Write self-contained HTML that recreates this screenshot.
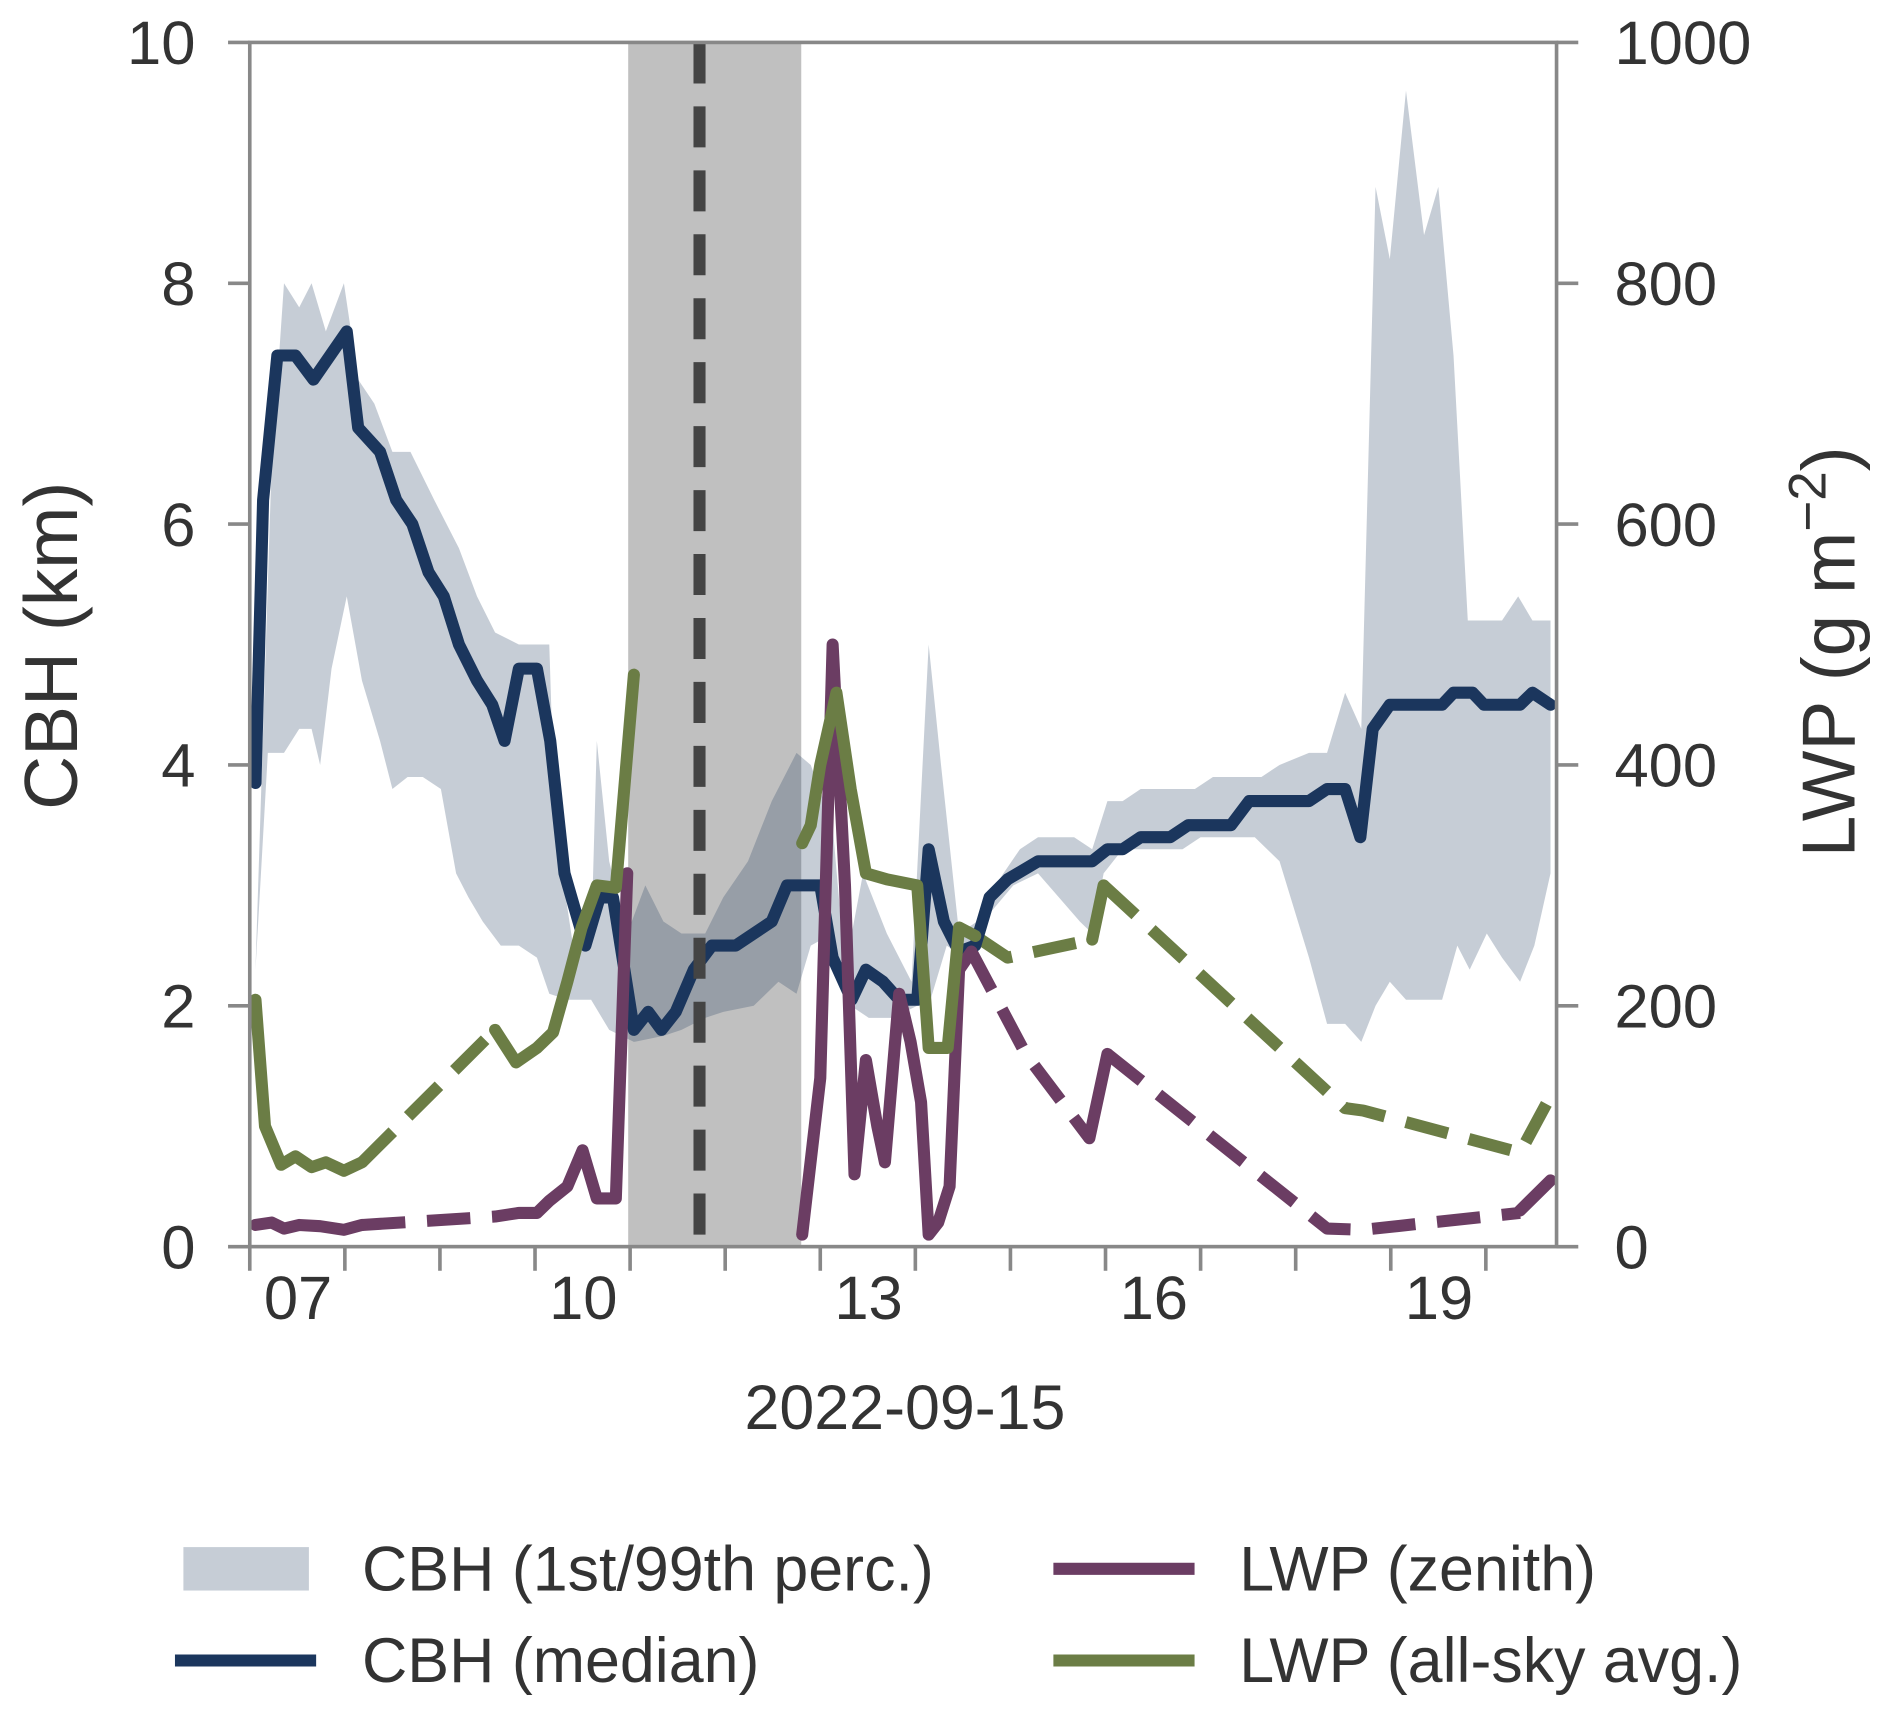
<!DOCTYPE html>
<html><head><meta charset="utf-8"><style>
html,body{margin:0;padding:0;background:#fff;}
svg{display:block;font-family:"Liberation Sans",sans-serif;}
</style></head><body>
<svg id="chart" width="1892" height="1715" viewBox="0 0 1568 1421" xmlns="http://www.w3.org/2000/svg">
<g id="plot"></g>
<g id="axes"></g>
<g id="legend">
  <rect x="152" y="1282" width="104" height="36" fill="#1b365d" fill-opacity="0.25"/>
  <text x="300" y="1318" font-size="52" fill="#333">CBH (1st/99th perc.)</text>
  <line x1="145" y1="1376" x2="262" y2="1376" stroke="#1b365d" stroke-width="10"/>
  <text x="300" y="1394" font-size="52" fill="#333">CBH (median)</text>
  <line x1="873" y1="1300" x2="990" y2="1300" stroke="#6b3d63" stroke-width="10"/>
  <text x="1027" y="1318" font-size="52" fill="#333">LWP (zenith)</text>
  <line x1="873" y1="1376" x2="990" y2="1376" stroke="#6b7d45" stroke-width="10"/>
  <text x="1027" y="1394" font-size="52" fill="#333">LWP (all-sky avg.)</text>
</g>
</svg>
<script>
const medianT=[7.06,7.14,7.29,7.48,7.67,8.02,8.14,8.37,8.54,8.71,8.88,9.04,9.20,9.39,9.55,9.68,9.83,10.02,10.16,10.31,10.53,10.68,10.82,11.04,11.19,11.33,11.48,11.67,11.86,12.11,12.49,12.65,13.0,13.13,13.33,13.48,13.66,13.83,14.02,14.14,14.30,14.46,14.63,14.78,14.97,15.29,15.86,16.02,16.18,16.37,16.68,16.87,17.32,17.51,18.14,18.33,18.52,18.68,18.81,18.99,19.54,19.66,19.86,19.98,20.36,20.49,20.68];
const medianV=[3.85,6.2,7.4,7.4,7.2,7.6,6.8,6.6,6.2,6.0,5.6,5.4,5.0,4.7,4.5,4.2,4.8,4.8,4.2,3.1,2.5,2.9,2.9,1.8,1.95,1.8,1.95,2.3,2.5,2.5,2.7,3.0,3.0,2.4,2.05,2.3,2.2,2.05,2.05,3.3,2.7,2.45,2.5,2.9,3.05,3.2,3.2,3.3,3.3,3.4,3.4,3.5,3.5,3.7,3.7,3.8,3.8,3.4,4.3,4.5,4.5,4.6,4.6,4.5,4.5,4.6,4.5];
const upperT=[7.06,7.23,7.36,7.52,7.65,7.80,7.99,8.14,8.31,8.50,8.69,8.94,9.20,9.39,9.58,9.83,10.15,10.21,10.40,10.59,10.65,10.78,10.97,11.16,11.35,11.54,11.79,11.98,12.24,12.49,12.75,12.90,13.13,13.26,13.45,13.70,13.96,14.14,14.27,14.46,14.65,14.84,15.10,15.29,15.67,15.86,16.02,16.18,16.37,16.94,17.13,17.64,17.83,18.14,18.33,18.52,18.69,18.84,18.99,19.16,19.35,19.50,19.66,19.81,20.17,20.34,20.49,20.68];
const upperV=[2.3,6.5,8.0,7.8,8.0,7.6,8.0,7.2,7.0,6.6,6.6,6.2,5.8,5.4,5.1,5.0,5.0,3.5,2.5,2.5,4.2,3.2,2.6,3.0,2.7,2.6,2.6,2.9,3.2,3.7,4.1,4.0,3.5,2.3,3.1,2.6,2.2,5.0,4.0,2.6,2.7,3.0,3.3,3.4,3.4,3.3,3.7,3.7,3.8,3.8,3.9,3.9,4.0,4.1,4.1,4.6,4.3,8.8,8.2,9.6,8.4,8.8,7.4,5.2,5.2,5.4,5.2,5.2];
const lowerT=[20.68,20.51,20.36,20.17,20.01,19.83,19.70,19.54,19.16,18.99,18.84,18.69,18.52,18.33,18.14,17.83,17.57,17.00,16.81,16.18,15.98,15.86,15.73,15.29,15.03,14.71,14.52,14.33,14.14,14.02,13.76,13.51,13.32,13.13,12.90,12.75,12.56,12.30,11.98,11.79,11.54,11.35,11.04,10.78,10.59,10.34,10.15,10.02,9.83,9.64,9.45,9.30,9.17,9.01,8.82,8.66,8.50,8.37,8.18,8.02,7.86,7.74,7.65,7.52,7.36,7.19,7.06];
const lowerV=[3.1,2.5,2.2,2.4,2.6,2.3,2.5,2.05,2.05,2.2,2.0,1.7,1.85,1.85,2.4,3.2,3.4,3.4,3.3,3.3,3.1,2.6,2.7,3.1,3.0,2.7,2.4,2.5,2.0,2.0,1.9,1.9,2.0,2.6,2.5,2.1,2.2,2.0,1.95,1.9,1.8,1.75,1.7,1.8,2.05,2.05,2.1,2.4,2.5,2.5,2.7,2.9,3.1,3.8,3.9,3.9,3.8,4.2,4.7,5.4,4.8,4.0,4.3,4.3,4.1,4.1,2.3];
const zenSolid=[
 [[7.06,18],[7.23,20],[7.36,15],[7.52,18],[7.74,17],[7.99,14],[8.18,18]],
 [[9.83,28],[10.02,28],[10.15,38],[10.34,50],[10.50,80],[10.65,40],[10.85,40],[10.97,310]],
 [[12.81,10],[13.00,140],[13.13,500],[13.26,300],[13.36,60],[13.48,155],[13.60,100],[13.68,70],[13.83,210],[13.95,170],[14.06,120],[14.14,10],[14.24,20],[14.36,50],[14.46,230],[14.59,245]],
 [[15.83,90],[16.02,160]],
 [[20.36,30],[20.68,55]]];
const zenDash=[
 [[8.18,18],[9.58,25],[9.83,28]],
 [[14.59,245],[15.16,160],[15.83,90]],
 [[16.02,160],[18.33,15],[18.71,14],[20.36,28]]];
const allSolid=[
 [[7.06,205],[7.16,100],[7.33,68],[7.48,75],[7.65,66],[7.80,70],[7.99,63],[8.18,70]],
 [[9.58,180],[9.80,153],[10.02,165],[10.19,178],[10.34,220],[10.49,265],[10.65,300],[10.85,298],[11.04,475]],
 [[12.81,335],[12.90,350],[13.00,400],[13.17,460],[13.32,380],[13.48,310],[13.70,305],[14.02,300],[14.14,165],[14.34,165],[14.46,265],[14.63,258]],
 [[15.86,255],[15.98,300]]];
const allDash=[
 [[8.18,70],[9.58,180]],
 [[14.63,258],[14.97,240],[15.86,255]],
 [[15.98,300],[18.52,115],[18.71,113],[20.36,78],[20.68,125]]];
const cbhTicks=[0,2,4,6,8,10];
const lwpTicks=[0,200,400,600,800,1000];
const dayTicks=[7,8,9,10,11,12,13,14,15,16,17,18,19,20];
const dayLabels=[[7,"07"],[10,"10"],[13,"13"],[16,"16"],[19,"19"]];
const bandStart=10.98, bandEnd=12.80, eventT=11.73;

const L=207,R=1290,T=35,B=1033;
const xs=d=>L+(d-7)*78.8;
const yk=v=>B-(v/10)*(B-T);
const yl=v=>B-(v/1000)*(B-T);
const NS="http://www.w3.org/2000/svg";
function mk(tag,attrs,parent){const e=document.createElementNS(NS,tag);for(const k in attrs)e.setAttribute(k,attrs[k]);parent.appendChild(e);return e;}
const plot=document.getElementById('plot'), axes=document.getElementById('axes');
const clip=mk('clipPath',{id:'clp'},plot);mk('rect',{x:L,y:T,width:R-L,height:B-T},clip);
const g=mk('g',{'clip-path':'url(#clp)'},plot);

let e=mk('rect',{x:xs(bandStart),y:T,width:xs(bandEnd)-xs(bandStart),height:B-T,fill:'#c0c0c0'},g);



let pts=upperT.map((t,i)=>xs(t)+','+yk(upperV[i])).concat(lowerT.map((t,i)=>xs(t)+','+yk(lowerV[i])));
e=mk('polygon',{points:pts.join(' '),fill:'#1b365d','fill-opacity':0.25},g);



function line(ptsArr,yf,color,dash,name){
  const el=mk('polyline',{points:ptsArr.map(p=>xs(p[0])+','+yf(p[1])).join(' '),fill:'none',stroke:color,'stroke-width':10,'stroke-linejoin':'round','stroke-linecap':dash?'butt':'round'},g);
  if(dash)el.setAttribute('stroke-dasharray','36 18');
  
  
}
zenDash.forEach(s=>line(s,yl,'#6b3d63',true,'lwp-zenith-gapfill'));
allDash.forEach(s=>line(s,yl,'#6b7d45',true,'lwp-allsky-gapfill'));
line(medianT.map((t,i)=>[t,medianV[i]]),yk,'#1b365d',false,'cbh-median-line');
zenSolid.forEach(s=>line(s,yl,'#6b3d63',false,'lwp-zenith-line'));
allSolid.forEach(s=>line(s,yl,'#6b7d45',false,'lwp-allsky-line'));

e=mk('line',{x1:xs(eventT),x2:xs(eventT),y1:T,y2:B,stroke:'#444','stroke-width':10,'stroke-dasharray':'34 19'},g);



e=mk('rect',{x:L,y:T,width:R-L,height:B-T,fill:'none',stroke:'#888','stroke-width':3},axes);


cbhTicks.forEach(v=>{
  mk('line',{x1:L-18,x2:L,y1:yk(v),y2:yk(v),stroke:'#888','stroke-width':3},axes);
  const t=mk('text',{x:162,y:yk(v)+18,'text-anchor':'end','font-size':51,fill:'#333'},axes);t.textContent=v;
  
  
});
lwpTicks.forEach(v=>{
  mk('line',{x1:R,x2:R+18,y1:yl(v),y2:yl(v),stroke:'#888','stroke-width':3},axes);
  const t=mk('text',{x:1338,y:yl(v)+18,'font-size':51,fill:'#333'},axes);t.textContent=v;
  
  
});
dayTicks.forEach(d=>mk('line',{x1:xs(d),x2:xs(d),y1:B,y2:B+20,stroke:'#888','stroke-width':3},axes));
dayLabels.forEach(([d,s])=>{
  const t=mk('text',{x:xs(d)+40,y:B+60,'text-anchor':'middle','font-size':51,fill:'#333'},axes);t.textContent=s;
  
  
});
let t=mk('text',{x:750,y:1184,'text-anchor':'middle','font-size':52,fill:'#333'},axes);t.textContent='2022-09-15';


t=mk('text',{x:0,y:0,'text-anchor':'middle','font-size':62,fill:'#333',transform:'translate(64,535) rotate(-90)'},axes);t.textContent='CBH (km)';


t=mk('text',{x:0,y:0,'text-anchor':'middle','font-size':62,fill:'#333',transform:'translate(1537,540) rotate(-90)'},axes);
t.innerHTML='LWP (g m<tspan font-size="44" dy="-24">−2</tspan><tspan dy="24">)</tspan>';



</script>
</body></html>
